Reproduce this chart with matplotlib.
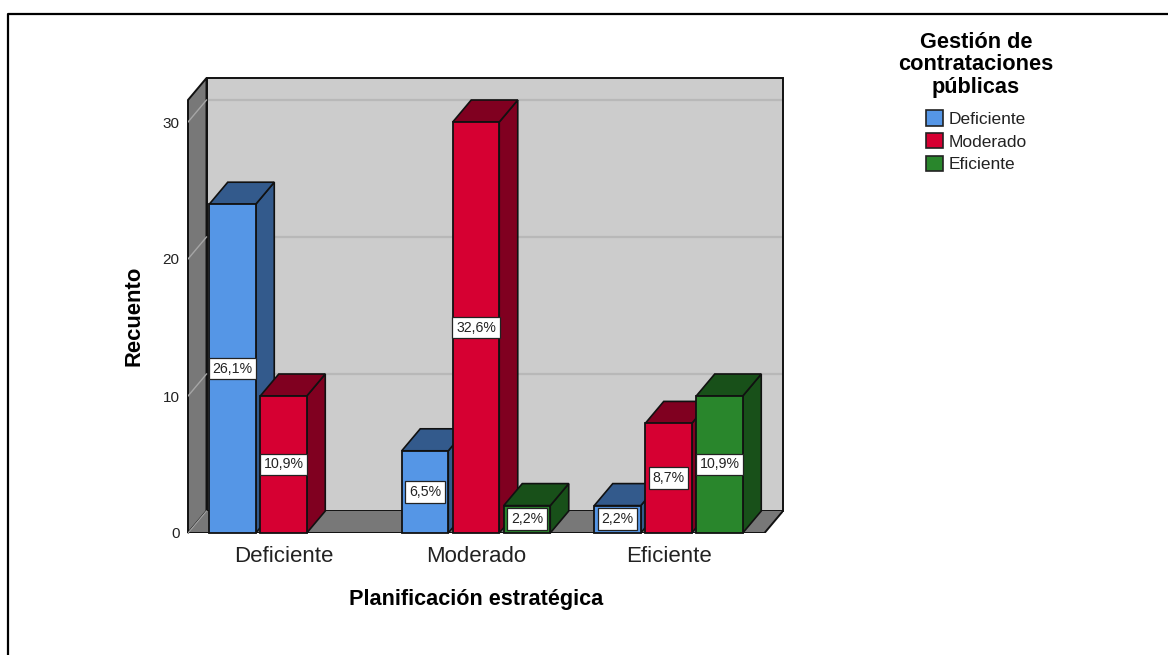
import matplotlib
matplotlib.use("Agg")
import matplotlib.pyplot as plt
from matplotlib.lines import Line2D
from matplotlib.patches import Patch, Polygon, Rectangle

plt.rcParams['font.family'] = ['Liberation Sans', 'DejaVu Sans']

categorias = ["Deficiente", "Moderado", "Eficiente"]
series = ["Deficiente", "Moderado", "Eficiente"]
recuentos = {
    "Deficiente": [24, 6, 2],
    "Moderado": [10, 30, 8],
    "Eficiente": [0, 2, 10],
}
porcentajes = {
    "Deficiente": ["26,1%", "6,5%", "2,2%"],
    "Moderado": ["10,9%", "32,6%", "8,7%"],
    "Eficiente": ["", "2,2%", "10,9%"],
}
color_frente = {"Deficiente": "#5596e6", "Moderado": "#d60032", "Eficiente": "#29862c"}
color_lado = {"Deficiente": "#335a8c", "Moderado": "#800020", "Eficiente": "#185019"}

W, H = 1168, 655
fig = plt.figure(figsize=(W / 100, H / 100), dpi=100)
ax = fig.add_axes([188 / W, 1 - 533 / H, 595 / W, 455 / H])

# echelle : 192.5 px par categorie, 13.7 px par unite de recuento
ax.set_xlim((188 - 283.5) / 192.5, (783 - 283.5) / 192.5)
ax.set_ylim(0, 455 / 13.7)
prof_x = 18.5 / 192.5
prof_y = 22 / 13.7
x_gauche = ax.get_xlim()[0]
x_droite = (764.5 - 283.5) / 192.5
y_haut = ax.get_ylim()[1] - prof_y
ancho = 0.2416
paso = 0.2649
borde = "#111111"


def poly(puntos, color, z, lw=1.2, ec=borde):
    ax.add_patch(Polygon(puntos, closed=True, facecolor=color, edgecolor=ec,
                         linewidth=lw, zorder=z, clip_on=False))


# Paredes y suelo
xb = x_gauche + prof_x
fondo = [(xb, prof_y), (x_droite + prof_x, prof_y), (x_droite + prof_x, y_haut + prof_y), (xb, y_haut + prof_y)]
poly(fondo, "#cccccc", 1, lw=0, ec="none")
for v in [10, 20, 30]:
    ax.plot([xb, x_droite + prof_x], [v + prof_y, v + prof_y], color="#b8b8b8", lw=1.6, zorder=2)
poly(fondo, "none", 2.5, lw=1.4)
poly([(x_gauche, 0), (xb, prof_y), (xb, y_haut + prof_y), (x_gauche, y_haut)], "#787878", 3, lw=1.4)
for v in [10, 20, 30]:
    ax.plot([x_gauche, xb], [v, v + prof_y], color="#a6a6a6", lw=1, zorder=4)
poly([(x_gauche, 0), (x_droite, 0), (x_droite + prof_x, prof_y), (xb, prof_y)], "#787878", 3, lw=0, ec="none")
ax.plot([x_gauche, x_droite, x_droite + prof_x], [0, 0, prof_y], color=borde, lw=1.4, zorder=4)
ax.plot([x_gauche, xb], [0, prof_y], color="#a6a6a6", lw=0.8, zorder=4)

# Barras en 3D, de izquierda a derecha
z = 5
for i in range(len(categorias)):
    for j, s in enumerate(series):
        v = recuentos[s][i]
        if v == 0:
            continue
        x0 = i + (j - 1) * paso - ancho / 2
        x1 = x0 + ancho
        poly([(x1, 0), (x1 + prof_x, prof_y), (x1 + prof_x, v + prof_y), (x1, v)], color_lado[s], z)
        poly([(x0, v), (x1, v), (x1 + prof_x, v + prof_y), (x0 + prof_x, v + prof_y)], color_lado[s], z)
        ax.add_patch(Rectangle((x0, 0), ancho, v, facecolor=color_frente[s], edgecolor=borde,
                               linewidth=1.3, zorder=z + 0.5, clip_on=False))
        ax.text((x0 + x1) / 2, v / 2, porcentajes[s][i], ha="center", va="center", fontsize=10.2,
                color="#222222", zorder=20,
                bbox=dict(boxstyle="square,pad=0.27", facecolor="white", edgecolor="#222222", linewidth=0.9))
        z += 1

ax.patch.set_visible(False)
for lado in ax.spines.values():
    lado.set_visible(False)
ax.set_xticks(range(len(categorias)))
ax.set_xticklabels(categorias, fontsize=16, color="#222222")
ax.set_yticks([0, 10, 20, 30])
ax.tick_params(axis="x", length=0, pad=9)
ax.tick_params(axis="y", length=0, pad=6, labelsize=11, labelcolor="#222222")

ax.set_xlabel("Planificación estratégica", fontsize=15.6, fontweight="bold")
ax.xaxis.set_label_coords((476 - 188) / 595, -66 / 455)
ax.xaxis.label.set_va("center")
ax.set_ylabel("Recuento", fontsize=15.8, fontweight="bold")
ax.yaxis.set_label_coords((134 - 188) / 595, (533 - 316) / 455)
ax.yaxis.label.set_va("center")

# Leyenda
fig.text(976 / W, 1 - 65 / H, "Gestión de\ncontrataciones\npúblicas", ha="center", va="center",
         fontsize=15.7, fontweight="bold", linespacing=1.09)
cajas = [Patch(facecolor=color_frente[s], edgecolor="#222222", linewidth=1.2, label=s) for s in series]
ley = fig.legend(handles=cajas, loc="upper center",
                 bbox_to_anchor=(976 / W, 1 - 110 / H), frameon=False, fontsize=12.5,
                 handlelength=1, handleheight=1,
                 handletextpad=0.3, labelspacing=0.35, borderpad=0, borderaxespad=0)
for t in ley.get_texts():
    t.set_color("#222222")

# Marco exterior
fig.add_artist(Line2D([7.5 / W, 7.5 / W, 1], [0, 1 - 14 / H, 1 - 14 / H], color="black", lw=1.6,
                      transform=fig.transFigure))

fig.savefig("out.png", dpi=100)
